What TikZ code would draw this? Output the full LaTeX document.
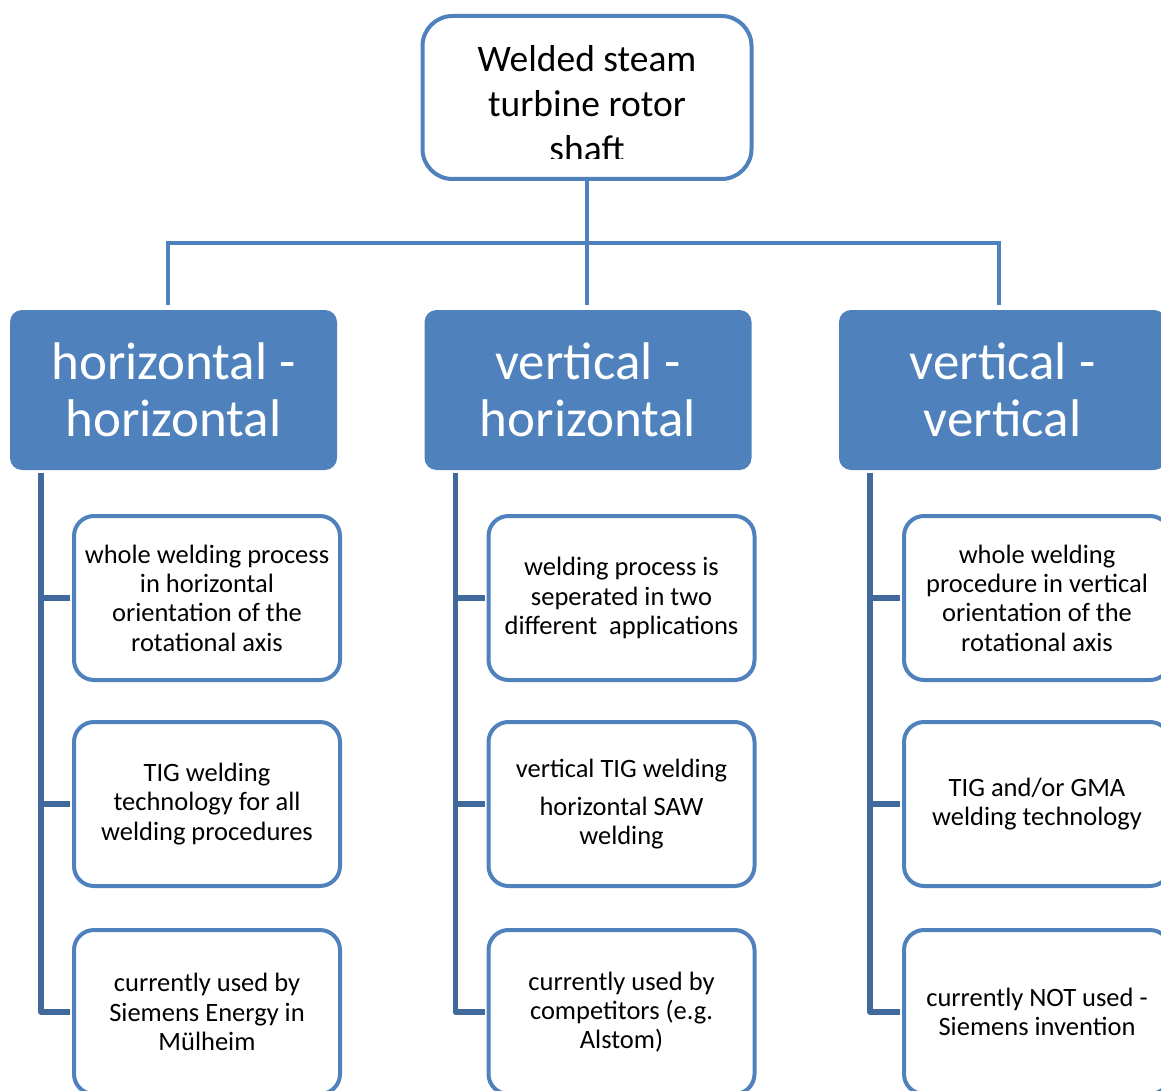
\documentclass[tikz,border=0pt]{standalone}
\usepackage{fontspec}
\setmainfont{Carlito}
\begin{document}
\definecolor{boxblue}{HTML}{4F81BD}
\definecolor{stemblue}{HTML}{41699B}
\begin{tikzpicture}[x=1pt,y=-1pt,
  rootbox/.style={draw=boxblue,line width=4pt,rounded corners=30pt,fill=white,
    minimum width=329pt,minimum height=163pt,inner sep=0pt},
  catbox/.style={fill=boxblue,rounded corners=12pt,minimum width=327pt,minimum height=160pt,
    inner sep=0pt,text=white,align=center,font=\fontsize{53}{57}\selectfont},
  itembox/.style={draw=boxblue,line width=4pt,rounded corners=20pt,fill=white,
    minimum width=266pt,minimum height=164pt,inner sep=0pt,align=center,
    font=\fontsize{26.5}{29.3}\selectfont},
  conn/.style={draw=boxblue,line width=3.5pt},
  stem/.style={draw=stemblue,line width=5.5pt,line join=round}]
\useasboundingbox (0,0) rectangle (1161,1091);
\clip (0,0) rectangle (1161,1091);

% root
\node[rootbox] (top) at (587,97.5) {};
\begin{scope}
  \clip (420,14) rectangle (753,159);
  \node[align=center,font=\fontsize{37.5}{45}\selectfont] (toptext) at (587,104)
    {Welded steam\\turbine rotor\\shaft};
\end{scope}

% categories
\node[catbox] (hh) at (173.5,390) {horizontal -\\horizontal};
\node[catbox] (vh) at (588,390) {vertical -\\horizontal};
\node[catbox] (vv) at (1002.5,390) {vertical -\\vertical};

% bus from root to the categories
\coordinate (bus) at (587,243);
\draw[conn] (top.south) -- (bus);
\draw[conn] ([xshift=-5.5pt,yshift=5pt]hh.north) |- (bus);
\draw[conn] ([xshift=-3.5pt,yshift=5pt]vv.north) |- (bus);
\draw[conn] (bus) -- ([xshift=-1pt,yshift=5pt]vh.north);

% items
\node[itembox] (h1) at (207,598) {whole welding process\\in horizontal\\orientation of the\\rotational axis};
\node[itembox] (h2) at (207,804) {TIG welding\\technology for all\\welding procedures};
\node[itembox] (h3) at (207,1012) {currently used by\\Siemens Energy in\\Mülheim};

\node[itembox] (m1) at (621.5,598) {welding process is\\seperated in two\\different\ \ applications};
\node[itembox] (m2) at (621.5,804) {\raisebox{-2pt}{vertical TIG welding}\\[11pt]horizontal SAW\\welding};
\node[itembox] (m3) at (621.5,1012) {currently used by\\competitors (e.g.\\Alstom)};

\node[itembox] (r1) at (1037,598) {whole welding\\procedure in vertical\\orientation of the\\rotational axis};
\node[itembox] (r2) at (1037,804) {TIG and/or GMA\\welding technology};
\node[itembox] (r3) at (1037,1012) {currently NOT used -\\Siemens invention};

% stems from categories to items
\foreach \c/\a/\b/\d in {hh/h1/h2/h3, vh/m1/m2/m3, vv/r1/r2/r3}{
  \draw[stem] ([xshift=31pt,yshift=-3pt]\c.south west) |- ([xshift=-2pt]\d.west);
  \draw[stem] ([xshift=31pt,yshift=-3pt]\c.south west) |- ([xshift=-2pt]\a.west);
  \draw[stem] ([xshift=31pt,yshift=-3pt]\c.south west) |- ([xshift=-2pt]\b.west);
}
\end{tikzpicture}
\end{document}
